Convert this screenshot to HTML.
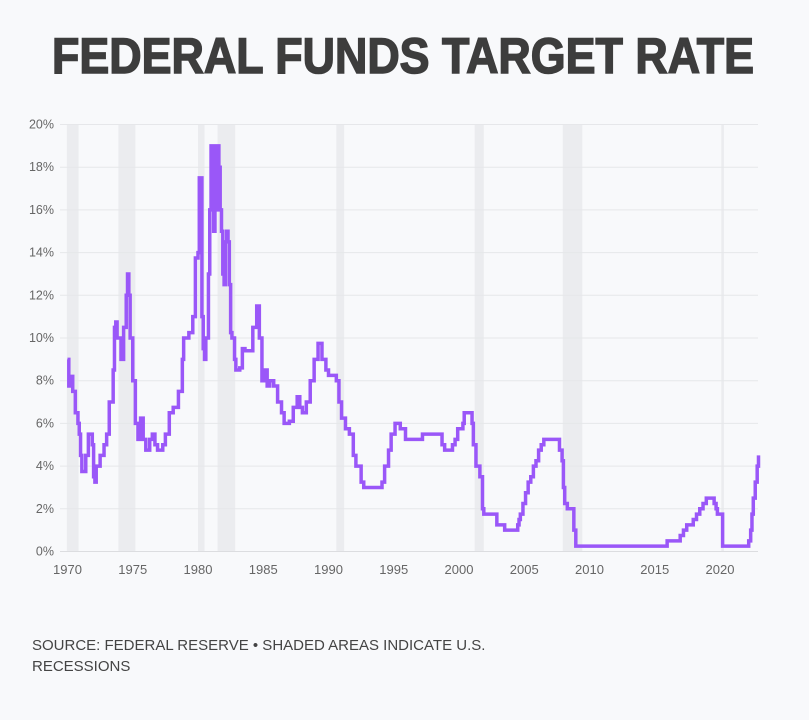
<!DOCTYPE html>
<html><head><meta charset="utf-8"><style>
html,body{margin:0;padding:0;background:#f8f9fb;}
svg{display:block;font-family:"Liberation Sans",sans-serif;}
</style></head><body>
<svg width="809" height="720" viewBox="0 0 809 720">
<rect width="809" height="720" fill="#f8f9fb"/>
<text x="403" y="73" text-anchor="middle" font-size="50" font-weight="bold" fill="#3d3d3d" stroke="#3d3d3d" stroke-width="1.5" textLength="702" lengthAdjust="spacingAndGlyphs">FEDERAL FUNDS TARGET RATE</text>
<g id="recessions"></g>
<g id="grid"></g>
<g id="yticks"></g>
<g id="xticks"></g>
<path id="line" fill="none" stroke="#9a57f8" stroke-width="3.5" stroke-linejoin="miter"/>
<text x="32" y="650" font-size="15" fill="#444">SOURCE: FEDERAL RESERVE • SHADED AREAS INDICATE U.S.</text>
<text x="32" y="671" font-size="15" fill="#444">RECESSIONS</text>
</svg>
<script>
const yTicks=[0,2,4,6,8,10,12,14,16,18,20];
const xTicks=[1970,1975,1980,1985,1990,1995,2000,2005,2010,2015,2020];
const recStart=[1969.95,1973.9,1980.0,1981.5,1990.6,2001.2,2007.95,2020.1];
const recEnd=[1970.85,1975.2,1980.5,1982.85,1991.2,2001.9,2009.45,2020.3];
const years=[1970.0,1970.1,1970.2,1970.4,1970.6,1970.8,1970.9,1971.0,1971.1,1971.4,1971.6,1971.9,1972.0,1972.1,1972.2,1972.5,1972.8,1973.0,1973.2,1973.5,1973.6,1973.7,1973.8,1974.1,1974.3,1974.5,1974.6,1974.7,1974.8,1975.0,1975.2,1975.4,1975.6,1975.8,1976.0,1976.3,1976.5,1976.7,1976.9,1977.3,1977.5,1977.8,1978.1,1978.5,1978.8,1978.9,1979.3,1979.6,1979.8,1980.0,1980.1,1980.3,1980.4,1980.5,1980.6,1980.8,1980.9,1981.0,1981.2,1981.3,1981.4,1981.5,1981.6,1981.7,1981.8,1981.9,1982.0,1982.1,1982.2,1982.3,1982.4,1982.5,1982.6,1982.8,1982.9,1983.2,1983.4,1983.6,1984.2,1984.5,1984.7,1984.9,1985.1,1985.3,1985.5,1985.8,1986.1,1986.4,1986.6,1987.0,1987.3,1987.6,1987.8,1988.0,1988.3,1988.6,1988.9,1989.2,1989.5,1989.8,1990.0,1990.6,1990.8,1991.0,1991.3,1991.6,1991.9,1992.1,1992.5,1992.7,1994.1,1994.3,1994.6,1994.8,1995.1,1995.5,1995.9,1997.2,1998.7,1998.9,1999.5,1999.7,1999.9,2000.3,2000.4,2001.0,2001.1,2001.3,2001.6,2001.8,2001.9,2002.9,2003.5,2004.5,2004.6,2004.7,2004.9,2005.1,2005.3,2005.5,2005.7,2005.9,2006.1,2006.3,2006.5,2007.7,2007.9,2008.0,2008.1,2008.3,2008.8,2008.95,2015.95,2016.95,2017.2,2017.45,2017.95,2018.2,2018.45,2018.7,2018.95,2019.55,2019.7,2019.8,2020.2,2022.2,2022.35,2022.45,2022.55,2022.7,2022.85,2022.95];
const rates=[9.0,7.75,8.2,7.5,6.5,6.0,5.5,4.5,3.75,4.5,5.5,5.0,3.5,3.25,4.0,4.5,5.0,5.5,7.0,8.5,10.5,10.75,10.0,9.0,10.5,12.0,13.0,12.0,10.0,8.0,6.0,5.25,6.25,5.25,4.75,5.25,5.5,5.0,4.75,5.0,5.5,6.5,6.75,7.5,9.0,10.0,10.25,11.0,13.75,14.0,17.5,11.0,9.5,9.0,10.0,13.0,16.0,19.0,15.0,19.0,16.0,19.0,18.0,16.0,15.0,13.0,12.5,14.5,15.0,14.5,12.5,10.25,10.0,9.0,8.5,8.6,9.5,9.4,10.5,11.5,10.0,8.0,8.5,7.75,8.0,7.75,7.0,6.5,6.0,6.1,6.75,7.25,6.75,6.5,7.0,8.0,9.0,9.75,9.0,8.5,8.25,8.0,7.0,6.25,5.75,5.5,4.5,4.0,3.25,3.0,3.25,4.0,4.75,5.5,6.0,5.75,5.25,5.5,5.0,4.75,5.0,5.25,5.75,6.0,6.5,6.0,5.0,4.0,3.5,2.0,1.75,1.25,1.0,1.25,1.5,1.75,2.25,2.75,3.25,3.5,4.0,4.25,4.75,5.0,5.25,4.75,4.25,3.0,2.25,2.0,1.0,0.25,0.5,0.75,1.0,1.25,1.5,1.75,2.0,2.25,2.5,2.25,2.0,1.75,0.25,0.5,1.0,1.75,2.5,3.25,4.0,4.5];
const X0=60,X1=758;
function xs(y){return 67.5+(y-1970)*13.05;}
function ys(v){return 551.5-v*21.35;}
const NS='http://www.w3.org/2000/svg';
const rg=document.getElementById('recessions');
for(let i=0;i<recStart.length;i++){
 const r=document.createElementNS(NS,'rect');
 
 
 r.setAttribute('x',xs(recStart[i]));r.setAttribute('y',ys(20));
 r.setAttribute('width',xs(recEnd[i])-xs(recStart[i]));r.setAttribute('height',ys(0)-ys(20));
 r.setAttribute('fill','#ebecef');rg.appendChild(r);
}
const gg=document.getElementById('grid'),yg=document.getElementById('yticks'),xg=document.getElementById('xticks');
yTicks.forEach(v=>{
 const l=document.createElementNS(NS,'line');
 
 
 l.setAttribute('x1',X0);l.setAttribute('x2',X1);l.setAttribute('y1',ys(v));l.setAttribute('y2',ys(v));
 l.setAttribute('stroke',v===0?'#dcdde0':'#e6e7ea');l.setAttribute('stroke-width','1');gg.appendChild(l);
 const t=document.createElementNS(NS,'text');
 
 
 t.setAttribute('x',54);t.setAttribute('y',ys(v)+4);t.setAttribute('text-anchor','end');
 t.setAttribute('font-size','12.5');t.setAttribute('fill','#666');t.textContent=v+'%';yg.appendChild(t);
});
xTicks.forEach(v=>{
 const t=document.createElementNS(NS,'text');
 
 
 t.setAttribute('x',xs(v));t.setAttribute('y',574);t.setAttribute('text-anchor','middle');
 t.setAttribute('font-size','13');t.setAttribute('fill','#666');t.textContent=v;xg.appendChild(t);
});
let d='M'+xs(years[0])+','+ys(rates[0]);
for(let i=1;i<years.length;i++){d+=' H'+xs(years[i])+' V'+ys(rates[i]);}
document.getElementById('line').setAttribute('d',d);
</script>
</body></html>
